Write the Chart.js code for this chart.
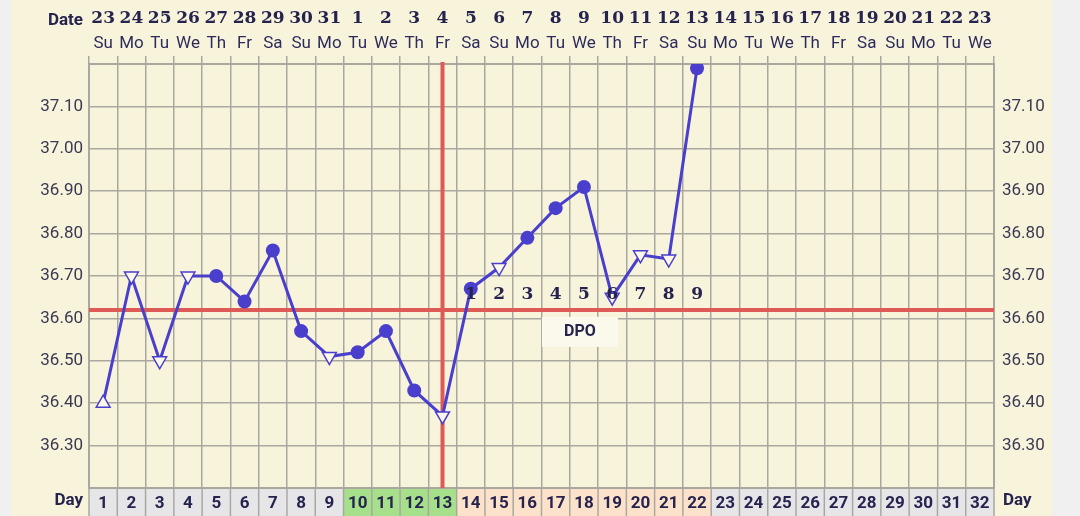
<!DOCTYPE html>
<html>
<head>
<meta charset="utf-8">
<script src="https://cdn.jsdelivr.net/npm/chart.js@4.4.1/dist/chart.umd.min.js"></script>
<style>
  html, body { margin: 0; padding: 0; background: #f0f0f0; }
  #wrap { width: 1080px; height: 516px; }
</style>
</head>
<body>
<div id="wrap"><canvas id="bbtChart" width="1080" height="516"></canvas></div>
<script>
// cycle data
const days = ['1','2','3','4','5','6','7','8','9','10','11','12','13','14','15','16',
              '17','18','19','20','21','22','23','24','25','26','27','28','29','30','31','32'];
const dates = ['23','24','25','26','27','28','29','30','31','1','2','3','4','5','6','7',
               '8','9','10','11','12','13','14','15','16','17','18','19','20','21','22','23'];
const weekdays = ['Su','Mo','Tu','We','Th','Fr','Sa','Su','Mo','Tu','We','Th','Fr','Sa','Su','Mo',
                  'Tu','We','Th','Fr','Sa','Su','Mo','Tu','We','Th','Fr','Sa','Su','Mo','Tu','We'];
const temps = [36.40, 36.70, 36.50, 36.70, 36.70, 36.64, 36.76, 36.57, 36.51, 36.52, 36.57,
               36.43, 36.37, 36.67, 36.72, 36.79, 36.86, 36.91, 36.65, 36.75, 36.74, 37.19];
// marker kind per day: up / down = open triangle, dot = filled circle
const markers = ['up','down','down','down','dot','dot','dot','dot','down','dot','dot',
                 'dot','down','dot','down','dot','dot','dot','down','down','down','dot'];
const fertileDays = ['10','11','12','13'];
const dpoDays = ['14','15','16','17','18','19','20','21','22'];
const dpoLabels = ['1','2','3','4','5','6','7','8','9'];
const ovulationDay = '13';
const coverline = 36.62;
const yTicks = [36.30, 36.40, 36.50, 36.60, 36.70, 36.80, 36.90, 37.00, 37.10];

const cream = '#f8f4dc';
const gridColor = '#a9a8a0';
const lineColor = '#4a3fcc';
const redColor = '#de5a56';
const navy = '#26234f';

function dayFill(d) {
  if (fertileDays.includes(d)) return '#a6e08a';
  if (dpoDays.includes(d)) return '#fde2cb';
  return '#e6e6e8';
}

const chartExtras = {
  id: 'chartExtras',
  beforeDraw(chart) {
    const ctx = chart.ctx, area = chart.chartArea, x = chart.scales.x;
    ctx.save();
    ctx.fillStyle = '#f0f0f0';
    ctx.fillRect(0, 0, chart.width, chart.height);
    ctx.fillStyle = cream;
    ctx.fillRect(11, 0, 1041, chart.height);
    const w = x.getPixelForValue(1) - x.getPixelForValue(0);
    days.forEach((d, i) => {
      const cx = x.getPixelForValue(i);
      ctx.fillStyle = dayFill(d);
      ctx.fillRect(cx - w / 2, area.bottom, w, chart.height - area.bottom);
    });
    ctx.strokeStyle = gridColor;
    ctx.lineWidth = 1.5;
    for (let i = 0; i <= days.length; i++) {
      const xx = area.left + i * w;
      ctx.beginPath();
      ctx.moveTo(xx, area.bottom);
      ctx.lineTo(xx, chart.height);
      ctx.stroke();
    }
    ctx.restore();
  },
  beforeDatasetsDraw(chart) {
    const ctx = chart.ctx, area = chart.chartArea;
    const x = chart.scales.x, y = chart.scales.y;
    ctx.save();
    ctx.strokeStyle = redColor;
    ctx.lineWidth = 4;
    const cy = y.getPixelForValue(coverline);
    ctx.beginPath();
    ctx.moveTo(area.left, cy);
    ctx.lineTo(area.right, cy);
    ctx.stroke();
    const ox = x.getPixelForValue(days.indexOf(ovulationDay));
    ctx.lineWidth = 4;
    ctx.beginPath();
    ctx.moveTo(ox, area.top - 2);
    ctx.lineTo(ox, area.bottom);
    ctx.stroke();
    ctx.restore();
  },
  afterDatasetsDraw(chart) {
    const ctx = chart.ctx;
    const x = chart.scales.x, y = chart.scales.y;
    const cy = y.getPixelForValue(coverline);
    ctx.save();
    ctx.fillStyle = navy;
    ctx.textAlign = 'center';
    ctx.textBaseline = 'middle';
    ctx.font = 'bold 17px "DejaVu Serif"';
    dpoDays.forEach((d, k) => {
      ctx.fillText(dpoLabels[k], x.getPixelForValue(days.indexOf(d)), cy - 15);
    });
    // DPO caption box
    const first = x.getPixelForValue(days.indexOf(dpoDays[0]));
    const last = x.getPixelForValue(days.indexOf(dpoDays[dpoDays.length - 1]));
    const mx = (first + last) / 2 - 4;
    ctx.fillStyle = '#fbf9ec';
    ctx.fillRect(mx - 38, cy + 7, 76, 30);
    ctx.fillStyle = navy;
    ctx.font = 'bold 16px Roboto';
    ctx.fillText('DPO', mx, cy + 22);
    ctx.restore();
  },
  afterDraw(chart) {
    const ctx = chart.ctx, area = chart.chartArea;
    ctx.save();
    ctx.fillStyle = navy;
    ctx.textBaseline = 'middle';
    ctx.font = 'bold 17px Roboto';
    ctx.textAlign = 'right';
    ctx.fillText('Date', area.left - 6, 21);
    ctx.fillText('Day', area.left - 6, 501);
    ctx.textAlign = 'left';
    ctx.fillText('Day', area.right + 9, 501);
    ctx.restore();
  }
};

const yTickLabel = v => {
  const hit = yTicks.find(t => Math.abs(t - v) < 0.001);
  return hit !== undefined ? hit.toFixed(2) : '';
};

const ctx = document.getElementById('bbtChart');

new Chart(ctx, {
  type: 'line',
  data: {
    labels: days,
    datasets: [{
      data: temps,
      borderColor: lineColor,
      borderWidth: 3,
      tension: 0,
      pointStyle: markers.map(m => m === 'dot' ? 'circle' : 'triangle'),
      rotation: markers.map(m => m === 'down' ? 180 : 0),
      pointRadius: markers.map(m => m === 'dot' ? 7 : 8),
      pointBackgroundColor: markers.map(m => m === 'dot' ? lineColor : '#fbf8e8'),
      pointBorderColor: lineColor,
      pointBorderWidth: markers.map(m => m === 'dot' ? 0 : 1.5)
    }]
  },
  options: {
    responsive: false,
    animation: false,
    devicePixelRatio: 1,
    layout: { padding: 0 },
    plugins: {
      legend: { display: false },
      tooltip: { enabled: false }
    },
    scales: {
      x: {
        type: 'category',
        position: 'bottom',
        offset: true,
        grid: { offset: true, color: gridColor, lineWidth: 1.5, drawTicks: false },
        border: { color: gridColor, width: 2 },
        ticks: {
          color: navy, padding: 6, autoSkip: false, maxRotation: 0,
          font: { family: 'Roboto', size: 17, weight: 'bold' }
        },
        afterFit: s => { s.height = 28; }
      },
      xWeek: {
        type: 'category',
        labels: weekdays,
        position: 'top',
        weight: 1,
        offset: true,
        grid: { offset: true, drawOnChartArea: false, drawTicks: true, tickLength: 8, color: gridColor, lineWidth: 1.5 },
        border: { color: gridColor, width: 2 },
        ticks: {
          color: '#2e2b5c', padding: 2, autoSkip: false, maxRotation: 0,
          font: { family: 'Roboto', size: 17 }
        },
        afterFit: s => { s.height = 30; }
      },
      xDate: {
        type: 'category',
        labels: dates,
        position: 'top',
        weight: 2,
        offset: true,
        grid: { display: false },
        border: { display: false },
        ticks: {
          color: navy, padding: -3, autoSkip: false, maxRotation: 0,
          font: { family: 'DejaVu Serif', size: 17, weight: 'bold' }
        },
        afterFit: s => { s.height = 34; }
      },
      y: {
        position: 'left',
        min: 36.2,
        max: 37.2,
        grid: { color: gridColor, lineWidth: 1.5, drawTicks: false },
        border: { color: gridColor, width: 2 },
        ticks: {
          stepSize: 0.05, maxTicksLimit: 40, padding: 6, color: '#3a3852',
          font: { family: 'Roboto', size: 17 },
          callback: yTickLabel
        },
        afterFit: s => { s.width = 89; }
      },
      yRight: {
        position: 'right',
        min: 36.2,
        max: 37.2,
        grid: { drawOnChartArea: false, drawTicks: false },
        border: { color: gridColor, width: 2 },
        ticks: {
          stepSize: 0.05, maxTicksLimit: 40, padding: 8, color: '#3a3852',
          font: { family: 'Roboto', size: 17 },
          callback: yTickLabel
        },
        afterFit: s => { s.width = 86; }
      }
    }
  },
  plugins: [chartExtras]
});
</script>
</body>
</html>
